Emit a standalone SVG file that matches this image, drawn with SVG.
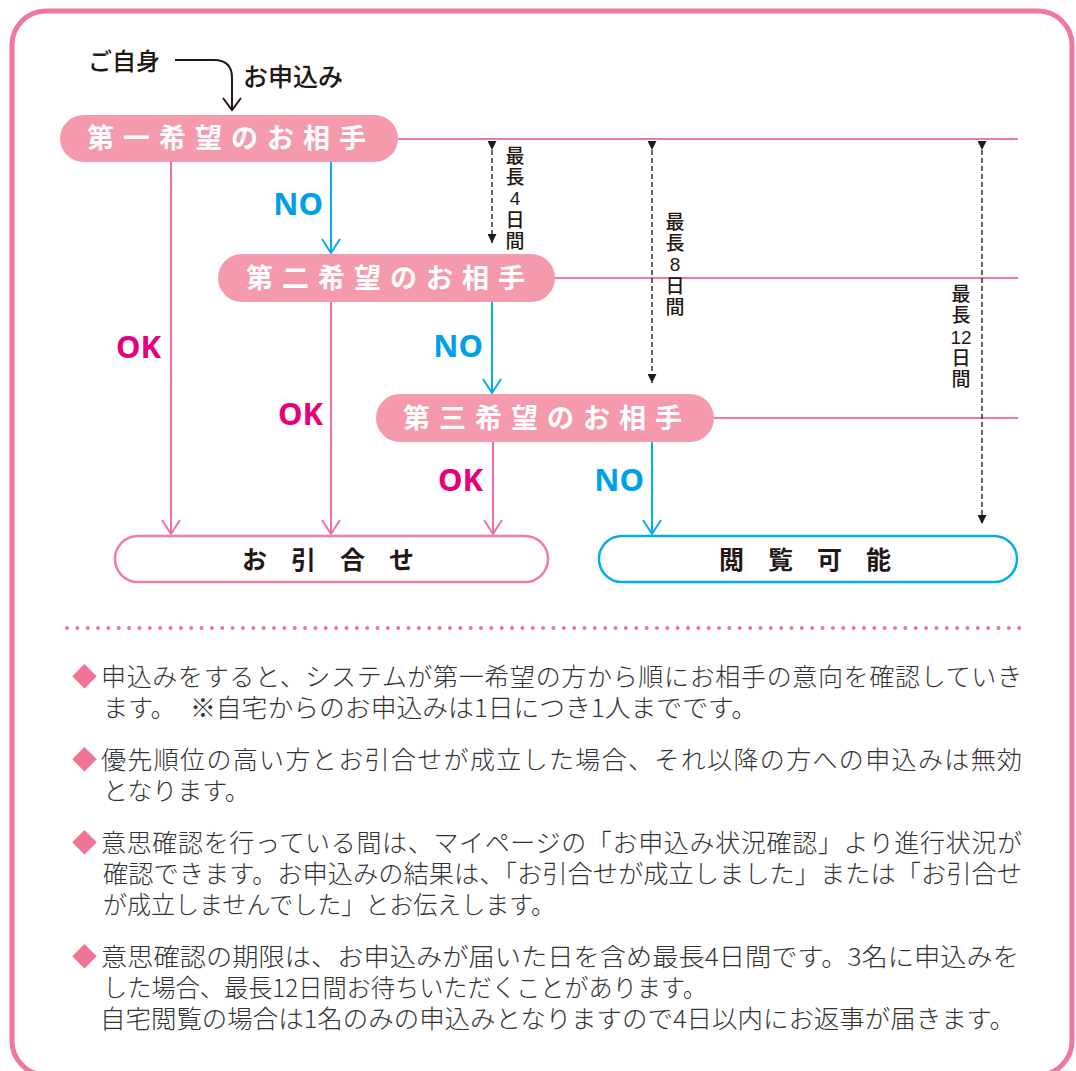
<svg xmlns="http://www.w3.org/2000/svg" width="1076" height="1071" viewBox="0 0 1076 1071">
<style>
.node-fill{fill:#f49aac}
.ntxt{font-family:"Noto Sans CJK JP","Noto Sans",sans-serif;font-weight:700;font-size:27px;fill:#fff;letter-spacing:9px;text-anchor:middle}
.btxt{font-family:"Noto Sans CJK JP","Noto Sans",sans-serif;font-weight:700;font-size:25px;fill:#231815;letter-spacing:24px;text-anchor:middle}
.hline{stroke:#f07a9c;stroke-width:2;fill:none}
.ok{stroke:#f06ea8;stroke-width:2;fill:none}
.no{stroke:#00aeef;stroke-width:2;fill:none}
.dash{stroke:#333;stroke-width:1.5;stroke-dasharray:5 3;fill:none}
.lblok{font-family:"Noto Sans","Open Sans",sans-serif;font-weight:700;font-size:31px;fill:#e6007e;text-anchor:end}
.lblno{font-family:"Noto Sans","Open Sans",sans-serif;font-weight:700;font-size:31px;fill:#00a0e9;text-anchor:end}
.vt{font-family:"Noto Sans CJK JP","Noto Sans",sans-serif;font-weight:500;font-size:19px;fill:#231815;writing-mode:vertical-rl;text-orientation:upright;letter-spacing:2px}
.dg{font-family:"Liberation Sans","Noto Sans",sans-serif;font-size:19px;fill:#231815;text-anchor:middle}
.body{font-family:"Noto Sans CJK JP","Noto Sans",sans-serif;font-weight:300;font-size:25px;fill:#333}
.dia{fill:#f07595}
.top{font-family:"Noto Sans CJK JP","Noto Sans",sans-serif;font-weight:500;font-size:24px;fill:#231815}
</style>
<defs>
<marker id="tri" viewBox="0 0 10 10" refX="10" refY="5" markerWidth="9" markerHeight="9" markerUnits="userSpaceOnUse" orient="auto">
<path d="M0,0 L10,5 L0,10 Z" fill="#231815"/>
</marker>
</defs>
<rect x="0" y="0" width="1076" height="1071" fill="#fff"/>
<rect id="frame" x="12" y="11" width="1060" height="1064" rx="34" fill="none" stroke="#f0789a" stroke-width="5"/>

<g id="connectors">
<path class="hline" d="M398,139 H1018 M555,278 H1018 M714,418 H1018"/>
<path d="M175,60 H214 Q232,60 232,78 V110 M223,98 L232,110 L241,98" stroke="#231815" stroke-width="2" fill="none"/>
<path class="ok" d="M171,162 V534 M162,520 L171,534 L180,520"/>
<path class="no" d="M331,162 V253 M322,239 L331,253 L340,239"/>
<path class="ok" d="M331,302 V534 M322,520 L331,534 L340,520"/>
<path class="no" d="M492,302 V393 M483,379 L492,393 L501,379"/>
<path class="ok" d="M493,442 V534 M484,520 L493,534 L502,520"/>
<path class="no" d="M652,442 V534 M643,520 L652,534 L661,520"/>
<path class="dash" d="M492,150 V243" marker-start="url(#tri)" marker-end="url(#tri)"/>
<path class="dash" d="M652,150 V383" marker-start="url(#tri)" marker-end="url(#tri)"/>
<path class="dash" d="M982,150 V524" marker-start="url(#tri)" marker-end="url(#tri)"/>
<text class="lblno" x="323" y="215">NO</text>
<text class="lblok" x="161" y="358">OK</text>
<text class="lblok" x="323" y="425">OK</text>
<text class="lblno" x="483" y="357">NO</text>
<text class="lblok" x="483" y="491">OK</text>
<text class="lblno" x="644" y="491">NO</text>
<text class="vt" x="515" y="146">最長</text>
<text class="dg" x="515" y="205">4</text>
<text class="vt" x="515" y="210.5">日間</text>
<text class="vt" x="675" y="212.5">最長</text>
<text class="dg" x="675" y="271">8</text>
<text class="vt" x="675" y="276.5">日間</text>
<text class="vt" x="961" y="284.5">最長</text>
<text class="dg" x="961" y="344">12</text>
<text class="vt" x="961" y="348.5">日間</text>
</g>

<g id="self">
<text class="top" x="88" y="70">ご自身</text>
</g>
<g id="apply-label">
<text class="top" x="243" y="86" style="font-size:25px">お申込み</text>
</g>

<g id="node1">
<rect class="node-fill" x="60" y="115" width="338" height="47" rx="23.5"/>
<text class="ntxt" x="231" y="148">第一希望のお相手</text>
</g>
<g id="node2">
<rect class="node-fill" x="218" y="254" width="337" height="48" rx="24"/>
<text class="ntxt" x="390" y="288">第二希望のお相手</text>
</g>
<g id="node3">
<rect class="node-fill" x="376" y="394" width="338" height="48" rx="24"/>
<text class="ntxt" x="547" y="428">第三希望のお相手</text>
</g>
<g id="match">
<rect x="115" y="536" width="433" height="46" rx="23" fill="#fff" stroke="#f07aaa" stroke-width="2.5"/>
<text class="btxt" x="340" y="569">お引合せ</text>
</g>
<g id="viewable">
<rect x="599" y="536" width="418" height="46" rx="23" fill="#fff" stroke="#00aeef" stroke-width="2.5"/>
<text class="btxt" x="817" y="569">閲覧可能</text>
</g>

<g id="notes">
<line x1="67" y1="628" x2="1022" y2="628" stroke="#f07595" stroke-width="4" stroke-linecap="round" stroke-dasharray="0 10.35"/>
<text class="body dia" x="72" y="686">◆</text>
<text class="body" x="101" y="686" textLength="921" lengthAdjust="spacing">申込みをすると、システムが第一希望の方から順にお相手の意向を確認していき</text>
<text class="body" x="103" y="717">ます。</text>
<text class="body" x="190" y="717" textLength="567" lengthAdjust="spacingAndGlyphs">※自宅からのお申込みは1日につき1人までです。</text>
<text class="body dia" x="72" y="769">◆</text>
<text class="body" x="101" y="769" textLength="921" lengthAdjust="spacing">優先順位の高い方とお引合せが成立した場合、それ以降の方への申込みは無効</text>
<text class="body" x="103" y="800">となります。</text>
<text class="body dia" x="72" y="852">◆</text>
<text class="body" x="101" y="852" textLength="921" lengthAdjust="spacing">意思確認を行っている間は、マイページの「お申込み状況確認」より進行状況が</text>
<text class="body" x="103" y="883" textLength="919" lengthAdjust="spacingAndGlyphs">確認できます。お申込みの結果は、「お引合せが成立しました」または「お引合せ</text>
<text class="body" x="103" y="914" textLength="452" lengthAdjust="spacingAndGlyphs">が成立しませんでした」とお伝えします。</text>
<text class="body dia" x="72" y="966">◆</text>
<text class="body" x="101" y="966" textLength="918" lengthAdjust="spacingAndGlyphs">意思確認の期限は、お申込みが届いた日を含め最長4日間です。3名に申込みを</text>
<text class="body" x="103" y="997" textLength="604" lengthAdjust="spacingAndGlyphs">した場合、最長12日間お待ちいただくことがあります。</text>
<text class="body" x="100" y="1028" textLength="915" lengthAdjust="spacingAndGlyphs">自宅閲覧の場合は1名のみの申込みとなりますので4日以内にお返事が届きます。</text>
</g>
</svg>
